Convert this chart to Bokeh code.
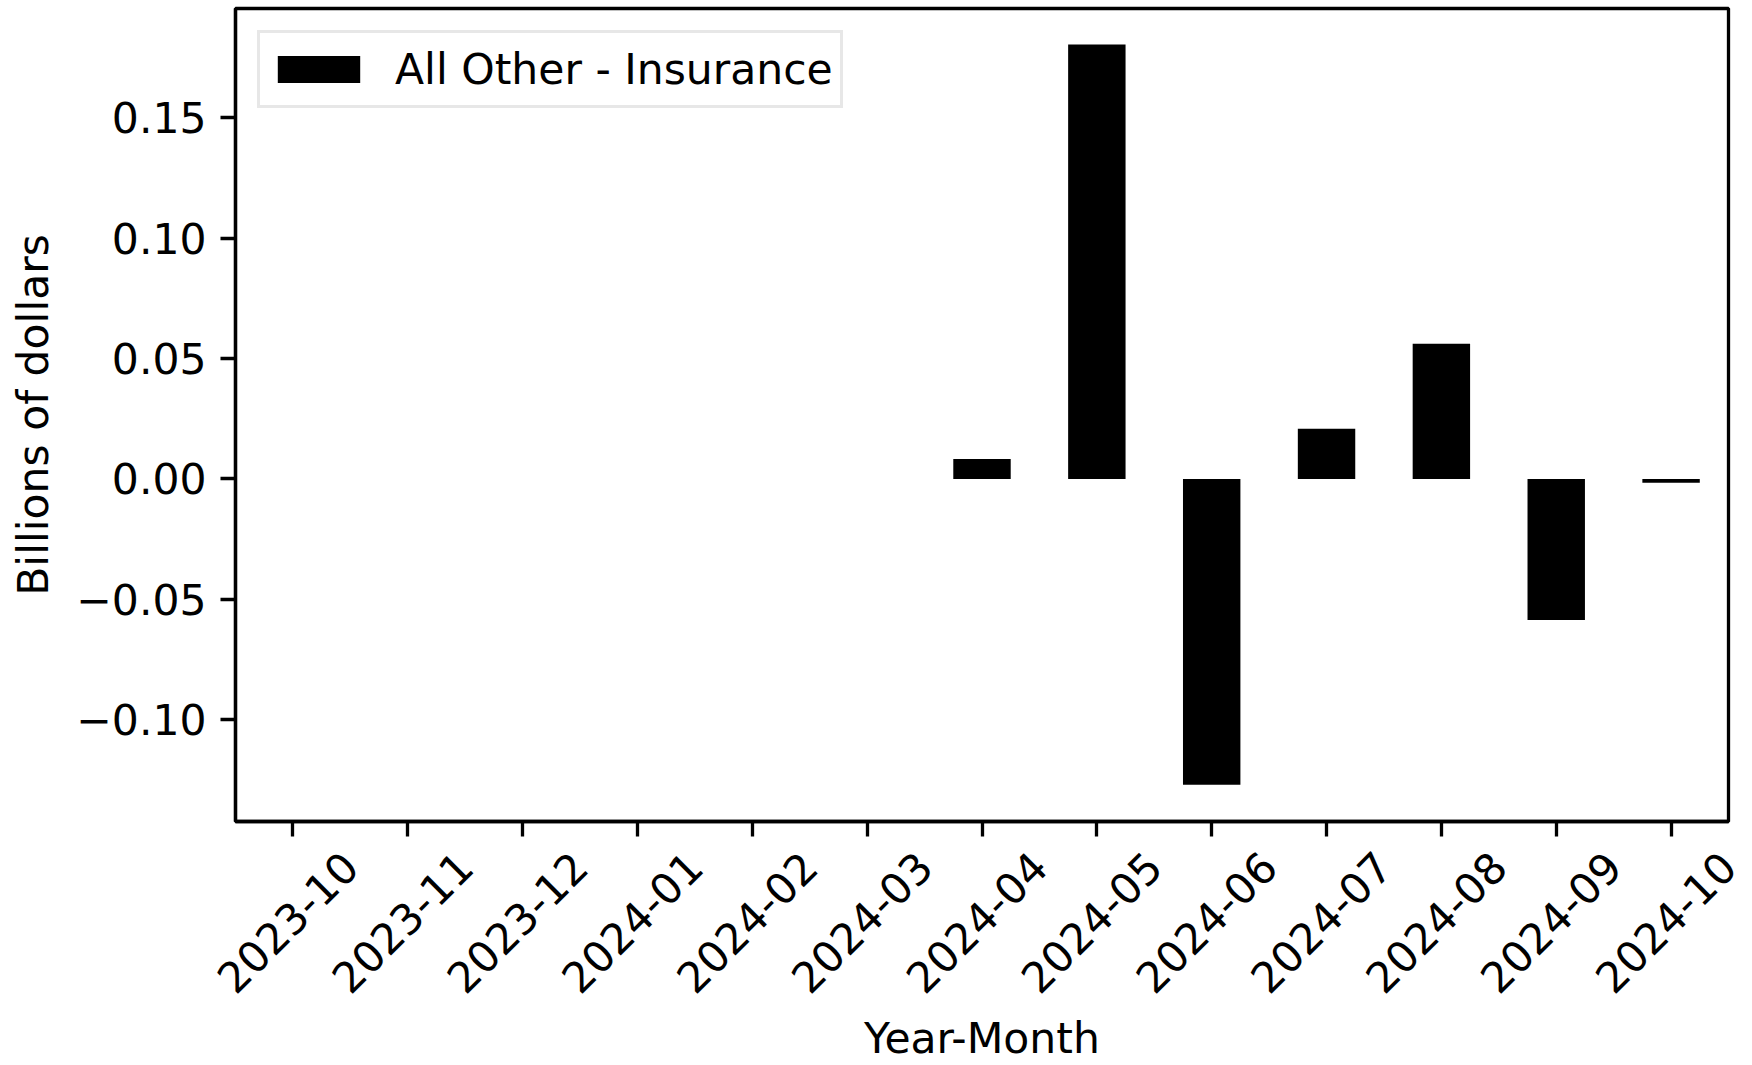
from bokeh.plotting import figure
from bokeh.models import (ColumnDataSource, FixedTicker, CustomJSTickFormatter, Legend, LegendItem,
                          Range1d, LinearAxis)
from bokeh.embed import file_html
from bokeh.resources import INLINE
import math

months = ["2023-10", "2023-11", "2023-12", "2024-01", "2024-02", "2024-03", "2024-04",
          "2024-05", "2024-06", "2024-07", "2024-08", "2024-09", "2024-10"]
values = [0.0, 0.0, 0.0, 0.0, 0.0, 0.0, 0.0083, 0.1805, -0.1271, 0.0208, 0.0562, -0.0587, -0.0016]
y_ticks = [-0.10, -0.05, 0.0, 0.05, 0.10, 0.15]
series_name = "All Other - Insurance"

FONT = "DejaVu Sans"
FS = "42.5px"
Y_MIN, Y_MAX = -0.1424, 0.1955
LABEL_SHIFT = 0.5  # rotated labels centred under their ticks (matplotlib style)

pos = list(range(len(months)))
src = ColumnDataSource(dict(x=pos, month=months, top=values))

p = figure(width=1752, height=1065, x_range=Range1d(-0.5, len(months) - 0.5),
           y_range=Range1d(Y_MIN, Y_MAX),
           output_backend="svg", toolbar_location=None,
           min_border_left=235, min_border_right=24, min_border_top=8, min_border_bottom=150)

r = p.vbar(x="x", top="top", bottom=0, width=0.5, source=src, fill_color="black", line_color=None)

p.xgrid.visible = False
p.ygrid.visible = False
p.outline_line_color = "black"
p.outline_line_width = 3.3
p.background_fill_color = "white"
p.border_fill_color = "white"

for ax in (p.xaxis[0], p.yaxis[0]):
    ax.axis_line_width = 3.3
    ax.major_tick_line_width = 3.3
    ax.major_tick_out = 15
    ax.major_tick_in = 0
    ax.minor_tick_out = 0
    ax.minor_tick_in = 0
    ax.major_label_text_font = FONT
    ax.major_label_text_font_size = FS
    ax.major_label_text_color = "black"
    ax.axis_label_text_font = FONT
    ax.axis_label_text_font_size = FS
    ax.axis_label_text_font_style = "normal"
    ax.axis_label_text_color = "black"
    ax.major_label_standoff = 14

p.yaxis.ticker = FixedTicker(ticks=y_ticks)
p.yaxis.formatter = CustomJSTickFormatter(code="return (tick < -1e-9 ? '\\u2212' : '') + Math.abs(tick).toFixed(2);")
p.yaxis.axis_label = "Billions of dollars"
p.yaxis.axis_label_standoff = 15

# main x axis: one tick per month, labels drawn by the axis below
p.xaxis.ticker = FixedTicker(ticks=pos, minor_ticks=[])
p.xaxis.major_label_text_font_size = "0px"
p.xaxis.major_label_text_color = None
p.xaxis.major_label_standoff = 0

# label axis: rotated month labels centred on the ticks
p.extra_x_ranges = {"lab": Range1d(-0.5 - LABEL_SHIFT, len(months) - 0.5 - LABEL_SHIFT)}
lab_axis = LinearAxis(x_range_name="lab",
                      ticker=FixedTicker(ticks=pos, minor_ticks=[]),
                      major_label_overrides={i: m for i, m in zip(pos, months)},
                      major_label_orientation=math.pi / 4,
                      axis_line_color=None, major_tick_line_color=None, minor_tick_line_color=None,
                      major_tick_out=0, major_tick_in=0, minor_tick_out=0, minor_tick_in=0,
                      major_label_standoff=23,
                      major_label_text_font=FONT, major_label_text_font_size=FS,
                      major_label_text_color="black",
                      axis_label="Year-Month", axis_label_standoff=4,
                      axis_label_text_font=FONT, axis_label_text_font_size=FS,
                      axis_label_text_font_style="normal", axis_label_text_color="black")
p.add_layout(lab_axis, "below")

legend = Legend(items=[LegendItem(label=series_name, renderers=[r])], location="top_left")
legend.margin = 22
legend.padding = 7
legend.spacing = 0
legend.glyph_width = 103
legend.glyph_height = 34
legend.label_height = 58
legend.label_standoff = 25
legend.label_text_font = FONT
legend.label_text_font_size = FS
legend.label_text_color = "black"
legend.border_line_color = "#d0d0d0"
legend.border_line_width = 3
legend.background_fill_alpha = 0.8
p.add_layout(legend)

open("out.html", "w").write(file_html(p, INLINE))
